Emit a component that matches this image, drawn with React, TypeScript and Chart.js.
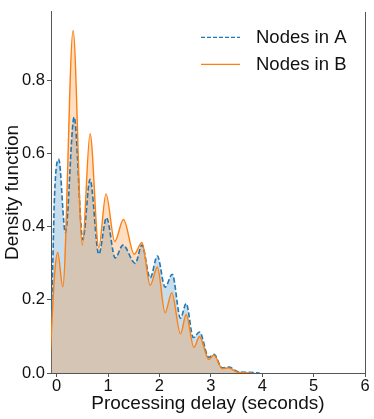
import React, { useEffect, useRef } from 'react';
import { Chart, registerables } from 'chart.js';
Chart.register(...registerables);

// Series A (blue, dashed) — KDE
const xA = [-0.12, -0.09, -0.04, 0.04, 0.17, 0.34, 0.51, 0.65, 0.82, 0.97, 1.14, 1.29, 1.53, 1.66, 1.82, 1.96, 2.11, 2.25, 2.41, 2.52, 2.66, 2.78, 2.96, 3.06, 3.22, 3.35, 3.52, 3.7, 3.95];
const yA = [0.12, 0.22, 0.49, 0.585, 0.384, 0.70, 0.365, 0.53, 0.325, 0.425, 0.315, 0.35, 0.30, 0.35, 0.26, 0.32, 0.235, 0.27, 0.15, 0.19, 0.097, 0.112, 0.043, 0.051, 0.014, 0.016, 0.004, 0.002, 0];

// Series B (orange, solid)
const xB = [-0.12, -0.04, 0.02, 0.12, 0.32, 0.50, 0.65, 0.82, 0.96, 1.13, 1.30, 1.51, 1.66, 1.82, 1.96, 2.11, 2.24, 2.41, 2.52, 2.67, 2.78, 2.96, 3.06, 3.22, 3.35, 3.52, 3.8];
const yB = [0.06, 0.27, 0.33, 0.236, 0.937, 0.35, 0.655, 0.343, 0.49, 0.36, 0.42, 0.325, 0.357, 0.24, 0.29, 0.165, 0.22, 0.107, 0.16, 0.07, 0.10, 0.037, 0.049, 0.012, 0.014, 0.002, 0];

const xTicks = [0, 1, 2, 3, 4, 5, 6];
const yTicks = [0, 0.2, 0.4, 0.6, 0.8];
const seriesNames = ['Nodes in A', 'Nodes in B'];
const xTitle = 'Processing delay (seconds)';
const yTitle = 'Density function';

const FONT = "'Liberation Sans', Arial, sans-serif";
const BLUE = '#1f77b4';
const ORANGE = '#ff7f0e';
const SPINE = '#555555';

export default function App() {
  const ref = useRef<HTMLCanvasElement | null>(null);
  useEffect(() => {
    if (!ref.current) return;
    const spinesAndLegend = {
      id: 'spinesAndLegend',
      afterDraw(chart: any) {
        const { ctx, chartArea } = chart;
        ctx.save();
        // right spine
        ctx.strokeStyle = SPINE;
        ctx.lineWidth = 1;
        ctx.beginPath();
        ctx.moveTo(chartArea.right + 0.5, chartArea.top);
        ctx.lineTo(chartArea.right + 0.5, chartArea.bottom);
        ctx.stroke();
        // legend
        const lx0 = chartArea.left + 150;
        const lx1 = lx0 + 39;
        const tx = lx1 + 16;
        const rows = [chartArea.top + 25, chartArea.top + 52];
        const styles = [
          { color: BLUE, dash: [4, 2] },
          { color: ORANGE, dash: [] as number[] },
        ];
        ctx.font = `18.5px ${FONT}`;
        ctx.textBaseline = 'middle';
        ctx.textAlign = 'left';
        seriesNames.forEach((name, i) => {
          ctx.strokeStyle = styles[i].color;
          ctx.lineWidth = 1.2;
          ctx.setLineDash(styles[i].dash);
          ctx.beginPath();
          ctx.moveTo(lx0, rows[i] + 0.5);
          ctx.lineTo(lx1, rows[i] + 0.5);
          ctx.stroke();
          ctx.setLineDash([]);
          ctx.fillStyle = '#111';
          ctx.fillText(name, tx, rows[i] + 1);
        });
        ctx.restore();
      },
    };

    const chart = new Chart(ref.current, {
      type: 'line',
      data: {
        datasets: [
          {
            label: seriesNames[0],
            data: xA.map((x, i) => ({ x, y: yA[i] })),
            borderColor: BLUE,
            backgroundColor: 'rgba(31,119,180,0.25)',
            borderWidth: 1.6,
            borderDash: [5, 2.4],
            fill: 'origin',
            pointRadius: 0,
            cubicInterpolationMode: 'monotone',
            order: 1,
          },
          {
            label: seriesNames[1],
            data: xB.map((x, i) => ({ x, y: yB[i] })),
            borderColor: ORANGE,
            backgroundColor: 'rgba(255,127,14,0.25)',
            borderWidth: 1.4,
            fill: 'origin',
            pointRadius: 0,
            cubicInterpolationMode: 'monotone',
            order: 0,
          },
        ],
      },
      options: {
        animation: false,
        responsive: false,
        devicePixelRatio: 1,
        layout: { padding: { top: 5, right: 9, left: 0, bottom: 0 } },
        plugins: {
          legend: { display: false },
          tooltip: { enabled: false },
          filler: { drawTime: 'beforeDatasetsDraw' },
        },
        scales: {
          x: {
            type: 'linear',
            min: -0.11,
            max: 6,
            afterBuildTicks: (s: any) => { s.ticks = xTicks.map((v) => ({ value: v })); },
            afterFit: (s: any) => { s.height = 46; },
            grid: { display: true, drawOnChartArea: false, drawTicks: true, tickLength: 4, color: SPINE },
            border: { display: true, color: SPINE, width: 1 },
            ticks: {
              color: '#111',
              font: { family: FONT, size: 16.5 },
              padding: 0,
              maxRotation: 0,
              callback: (v: any) => String(v),
            },
            title: {
              display: true,
              text: xTitle,
              color: '#111',
              font: { family: FONT, size: 19 },
              padding: { top: 0, bottom: 4 },
            },
          },
          y: {
            type: 'linear',
            min: 0,
            max: 0.988,
            afterBuildTicks: (s: any) => { s.ticks = yTicks.map((v) => ({ value: v })); },
            afterFit: (s: any) => { s.width = 51; },
            grid: { display: true, drawOnChartArea: false, drawTicks: true, tickLength: 4, color: SPINE },
            border: { display: true, color: SPINE, width: 1 },
            ticks: {
              color: '#111',
              font: { family: FONT, size: 16.5 },
              padding: 2,
              callback: (v: any) => Number(v).toFixed(1),
            },
            title: {
              display: true,
              text: yTitle,
              color: '#111',
              font: { family: FONT, size: 19 },
              padding: { top: 1, bottom: 0 },
            },
          },
        },
      },
      plugins: [spinesAndLegend],
    } as any);
    return () => chart.destroy();
  }, []);

  return (
    <div style={{ position: 'absolute', left: 0, top: 0, width: 374, height: 419 }}>
      <canvas ref={ref} width={374} height={419} style={{ display: 'block' }} />
    </div>
  );
}
